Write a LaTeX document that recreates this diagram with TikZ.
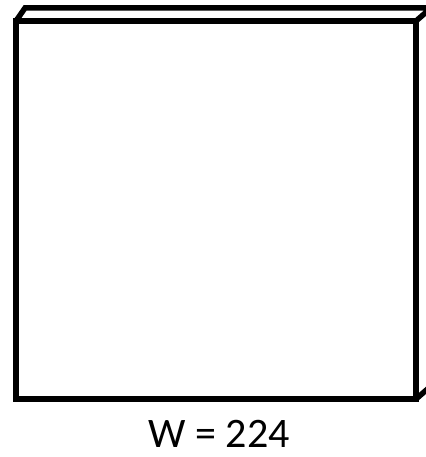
\documentclass[tikz,border=0pt]{standalone}
\usepackage{fontspec}
\setmainfont{Carlito}
\begin{document}
\begin{tikzpicture}[x=1pt,y=-1pt,
  edge/.style={draw=black,line width=5.5pt,line join=miter},
  lbl/.style={font=\fontsize{42}{50}\selectfont,inner sep=0pt,anchor=base}]
\useasboundingbox (0,0) rectangle (425,457);
\coordinate (fa) at (16,21);
\coordinate (fb) at (416,21);
\coordinate (fc) at (416,399);
\coordinate (fd) at (16,399);
\coordinate (ba) at (25,8);
\coordinate (bb) at (431,8);
\coordinate (bc) at (431,386);
\draw[edge] (fa) -- (ba) -- (bb) -- (fb);
\draw[edge] (bb) -- (bc) -- (fc);
\draw[edge] (fa) -- (fb) -- (fc) -- (fd) -- cycle;
\node[lbl] (w) at (219,447) {W = 224};
\end{tikzpicture}
\end{document}
